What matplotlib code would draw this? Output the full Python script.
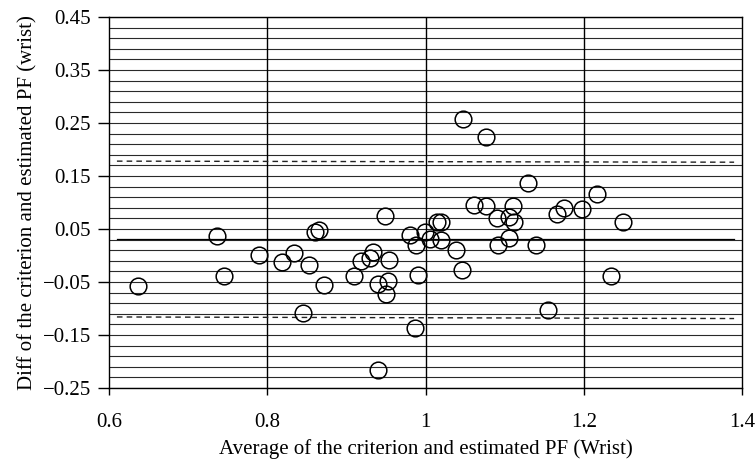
import numpy as np
import matplotlib
matplotlib.use("Agg")
import matplotlib.pyplot as plt

# average of criterion and estimated PF (wrist)
avg = [0.636, 0.737, 0.745, 0.790, 0.819, 0.834, 0.845, 0.853, 0.860, 0.865,
       0.872, 0.909, 0.919, 0.930, 0.934, 0.949, 0.954, 0.940, 0.952, 0.950,
       0.940, 0.987, 0.980, 0.988, 0.991, 0.999, 1.006, 1.015, 1.020, 1.020,
       1.039, 1.046, 1.048, 1.077, 1.061, 1.077, 1.090, 1.091, 1.106, 1.110,
       1.112, 1.105, 1.129, 1.140, 1.155, 1.166, 1.175, 1.198, 1.217, 1.235,
       1.250]
# difference of criterion and estimated PF
diff = [-0.058, 0.037, -0.039, 0.000, -0.013, 0.005, -0.109, -0.018, 0.045, 0.048,
        -0.056, -0.038, -0.011, -0.004, 0.007, 0.075, -0.009, -0.054, -0.048, -0.073,
        -0.217, -0.136, 0.039, 0.019, -0.037, 0.045, 0.031, 0.064, 0.064, 0.030,
        0.010, -0.027, 0.258, 0.223, 0.096, 0.093, 0.070, 0.020, 0.072, 0.093,
        0.064, 0.033, 0.137, 0.019, -0.102, 0.079, 0.090, 0.087, 0.116, -0.038,
        0.063]

# bias and limits of agreement (left end, right end)
line_x = [0.61, 1.39]
bias = [0.031, 0.031]
upper_loa = [0.178, 0.176]
lower_loa = [-0.116, -0.119]

xticks = [0.6, 0.8, 1.0, 1.2, 1.4]
xticklabels = ["0.6", "0.8", "1", "1.2", "1.4"]
yticks = [-0.25, -0.15, -0.05, 0.05, 0.15, 0.25, 0.35, 0.45]

plt.rcParams['font.family'] = ['Liberation Serif', 'DejaVu Serif']

fig = plt.figure(figsize=(7.55, 4.68), dpi=100)
ax = fig.add_axes([0.1444, 0.171, 0.8384, 0.7927])

# horizontal grid every 0.02
for g in np.arange(-0.25, 0.4501, 0.02):
    ax.axhline(g, color='#2a2a2a', lw=0.8, zorder=1)
for v in [0.8, 1.0, 1.2]:
    ax.axvline(v, color='black', lw=1.0, zorder=1)

ax.plot(line_x, bias, color='black', lw=0.9, zorder=2)
ax.plot(line_x, upper_loa, color='#222222', lw=1.0, ls=(0, (4, 3)), zorder=2)
ax.plot(line_x, lower_loa, color='#222222', lw=1.0, ls=(0, (4, 3)), zorder=2)

ax.plot(avg, diff, 'o', mfc='none', mec='black', ms=12, mew=1.1, zorder=3)

ax.set_xlim(0.6, 1.4)
ax.set_ylim(-0.25, 0.45)
ax.set_xticks(xticks)
ax.set_xticklabels(xticklabels)
ax.set_yticks(yticks)
ax.set_yticklabels([f"{t:.2f}".replace("-", "\u2212") for t in yticks])
ax.tick_params(axis='y', direction='out', length=8, width=1, pad=5, labelsize=15)
ax.tick_params(axis='x', direction='out', length=5, width=1, pad=13, labelsize=15)
for s in ax.spines.values():
    s.set_color('black')
    s.set_linewidth(1.0)

ax.set_xlabel("Average of the criterion and estimated PF (Wrist)", fontsize=15, labelpad=5)
ax.set_ylabel("Diff of the criterion and estimated PF (wrist)", fontsize=15, labelpad=4)

fig.savefig("out.png", dpi=100)
